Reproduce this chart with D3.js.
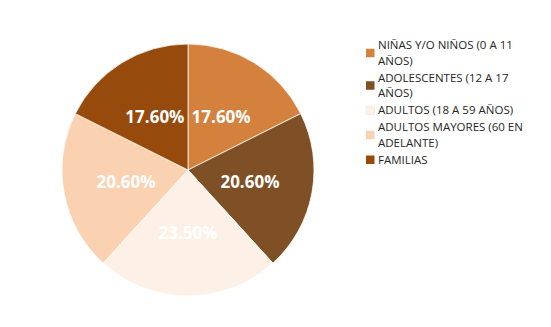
<!DOCTYPE html>
<html>
<head>
<meta charset="utf-8">
<script src="https://cdn.jsdelivr.net/npm/d3@7"></script>
<style>
  html, body { margin: 0; padding: 0; background: #fff; }
  svg { display: block; }
</style>
</head>
<body>
<svg id="chart" width="551" height="327"></svg>
<script>
// Population groups served and their share of the total
const categories = [
  "NIÑAS Y/O NIÑOS (0 A 11 AÑOS)",
  "ADOLESCENTES (12 A 17 AÑOS)",
  "ADULTOS (18 A 59 AÑOS)",
  "ADULTOS MAYORES (60 EN ADELANTE)",
  "FAMILIAS"
];
const values = [17.6, 20.6, 23.5, 20.6, 17.6];
const colors = ["#D4813E", "#7F4F25", "#FDF1E7", "#FAD1B1", "#964A0B"];

const svg = d3.select("#chart");
const cx = 188, cy = 170, radius = 126;

const pie = d3.pie().value(d => d).sort(null);
const arc = d3.arc().innerRadius(0).outerRadius(radius);
const labelArc = d3.arc().innerRadius(radius * 0.5).outerRadius(radius * 0.5);

const g = svg.append("g").attr("transform", `translate(${cx},${cy})`);
const arcs = pie(values);

g.selectAll("path.slice")
  .data(arcs)
  .enter().append("path")
  .attr("class", "slice")
  .attr("d", arc)
  .attr("fill", (d, i) => colors[i])
  .attr("stroke", "#ffffff")
  .attr("stroke-width", 0.75);

g.selectAll("text.val")
  .data(arcs)
  .enter().append("text")
  .attr("class", "val")
  .attr("transform", d => `translate(${labelArc.centroid(d)})`)
  .attr("text-anchor", "middle")
  .attr("dy", "0.36em")
  .attr("fill", "#ffffff")
  .attr("font-family", "'Open Sans', sans-serif")
  .attr("font-weight", "bold")
  .attr("font-size", 17)
  .text(d => d.data.toFixed(2) + "%");

// Legend with word wrapping
const legend = svg.append("g").attr("transform", "translate(366,0)");
const lineH = 15.5;
const maxW = 160;
const fontSize = 11.5;
const measure = svg.append("text")
  .attr("font-family", "'Open Sans', sans-serif")
  .attr("font-size", fontSize)
  .attr("visibility", "hidden");

function wrap(str) {
  const words = str.split(" ");
  const lines = [];
  let cur = "";
  for (const w of words) {
    const trial = cur ? cur + " " + w : w;
    measure.text(trial);
    if (cur && measure.node().getComputedTextLength() > maxW) {
      lines.push(cur);
      cur = w;
    } else {
      cur = trial;
    }
  }
  if (cur) lines.push(cur);
  return lines;
}

let y = 45;
categories.forEach((name, i) => {
  const lines = wrap(name);
  const centerY = y + (lines.length - 1) * lineH / 2;
  legend.append("rect")
    .attr("x", 0)
    .attr("y", centerY - 4)
    .attr("width", 8.5)
    .attr("height", 8.5)
    .attr("fill", colors[i])
    .attr("stroke", i === 2 ? "#f3e2d4" : "none")
    .attr("stroke-width", 0.5);
  const t = legend.append("text")
    .attr("x", 12)
    .attr("font-family", "'Open Sans', sans-serif")
    .attr("font-size", fontSize)
    .attr("fill", "#262626");
  lines.forEach((ln, k) => {
    t.append("tspan")
      .attr("x", 12)
      .attr("y", y + k * lineH)
      .attr("dy", "0.35em")
      .text(ln);
  });
  y += lines.length * lineH + 1.5;
});
measure.remove();
</script>
</body>
</html>
